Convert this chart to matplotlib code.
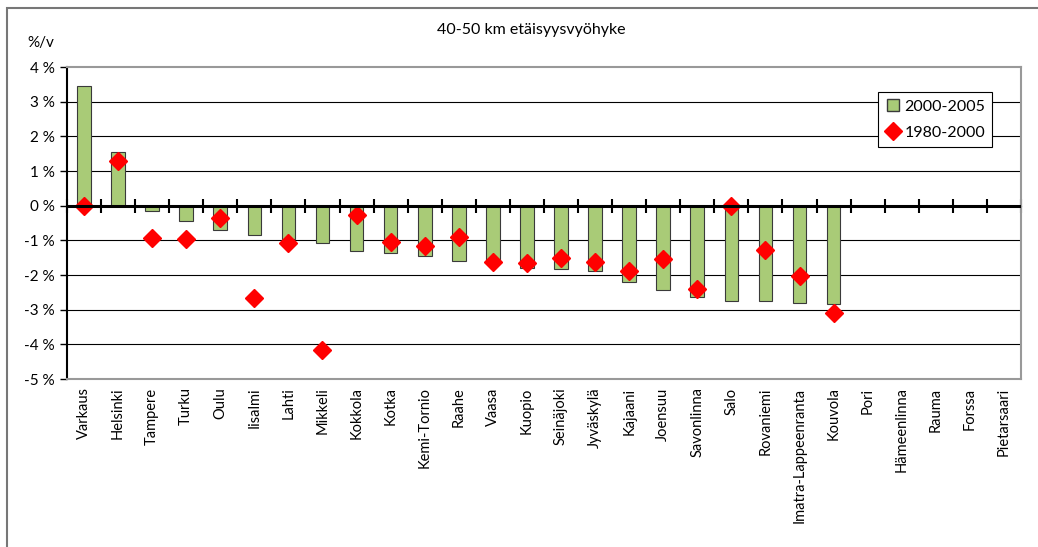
import matplotlib.pyplot as plt
import numpy as np
from matplotlib.patches import Rectangle
from matplotlib.lines import Line2D

plt.rcParams['font.family'] = ['Lato', 'DejaVu Sans']

cities = ['Varkaus', 'Helsinki', 'Tampere', 'Turku', 'Oulu', 'Iisalmi', 'Lahti',
          'Mikkeli', 'Kokkola', 'Kotka', 'Kemi-Tornio', 'Raahe', 'Vaasa', 'Kuopio',
          'Seinäjoki', 'Jyväskylä', 'Kajaani', 'Joensuu', 'Savonlinna', 'Salo',
          'Rovaniemi', 'Imatra-Lappeenranta', 'Kouvola', 'Pori', 'Hämeenlinna',
          'Rauma', 'Forssa', 'Pietarsaari']
# 2000-2005 (%/v), nan = no data
growth_2000_2005 = [3.46, 1.55, -0.14, -0.44, -0.70, -0.85, -0.95, -1.08, -1.32,
                    -1.37, -1.45, -1.60, -1.61, -1.80, -1.82, -1.89, -2.19, -2.42,
                    -2.64, -2.76, -2.76, -2.81, -2.83,
                    np.nan, np.nan, np.nan, np.nan, np.nan]
# 1980-2000 (%/v)
growth_1980_2000 = [-0.02, 1.28, -0.92, -0.96, -0.36, -2.65, -1.07, -4.17, -0.28,
                    -1.05, -1.16, -0.89, -1.61, -1.66, -1.50, -1.63, -1.88, -1.55,
                    -2.41, 0.0, -1.28, -2.04, -3.09,
                    np.nan, np.nan, np.nan, np.nan, np.nan]
y_ticks = [4, 3, 2, 1, 0, -1, -2, -3, -4, -5]
y_labels = ['4 %', '3 %', '2 %', '1 %', '0 %', '-1 %', '-2 %', '-3 %', '-4 %', '-5 %']

fig = plt.figure(figsize=(10.38, 5.47), dpi=100)
ax = fig.add_axes([0.0645, 0.307, 0.9191, 0.5705])

x = np.arange(len(cities))
ax.bar(x, growth_2000_2005, width=0.4, color='#A9CB77', edgecolor='#3a3a3a',
       linewidth=0.8, zorder=3, label='2000-2005')
ax.plot(x, growth_1980_2000, linestyle='none', marker='D', markersize=9,
        color='#FF0000', zorder=4, label='1980-2000')

ax.set_xlim(-0.5, len(cities) - 0.5)
ax.set_ylim(-5, 4)

# gridlines
for v in y_ticks[1:]:
    ax.axhline(v, color='black', linewidth=0.8, zorder=1)
ax.axhline(0, color='black', linewidth=2.2, zorder=5)

ax.set_yticks(y_ticks)
ax.set_yticklabels(y_labels, fontsize=11)
ax.tick_params(axis='y', direction='out', length=5, width=1, pad=4)

ax.set_xticks(x)
ax.set_xticklabels(cities, rotation=90, fontsize=10.5)
ax.tick_params(axis='x', length=0, pad=6)

# category tick marks on the zero line
sec = ax.secondary_xaxis(5 / 9)
sec.set_xticks(np.arange(len(cities) + 1) - 0.5)
sec.set_xticklabels([])
sec.tick_params(direction='inout', length=10, width=1.5)
sec.spines['bottom'].set_visible(False)

for s in ['top', 'right', 'bottom']:
    ax.spines[s].set_color('#999999')
    ax.spines[s].set_linewidth(1.5)
ax.spines['left'].set_color('black')
ax.spines['left'].set_linewidth(1.5)

handles = [Line2D([], [], linestyle='none', marker='s', markersize=9,
                  markerfacecolor='#A9CB77', markeredgecolor='#3a3a3a'),
           Line2D([], [], linestyle='none', marker='D', markersize=9, color='#FF0000')]
leg = ax.legend(handles, ['2000-2005', '1980-2000'], loc='upper right',
                bbox_to_anchor=(0.9785, 0.945), fontsize=11.5, fancybox=False,
                framealpha=1, edgecolor='black', handletextpad=0.2,
                borderpad=0.45, labelspacing=0.75, handlelength=1.0)
leg.get_frame().set_linewidth(0.8)
leg.set_zorder(10)

fig.text(0.512, 0.945, '40-50 km etäisyysvyöhyke', ha='center', va='center', fontsize=11.5)
fig.text(0.052, 0.922, '%/v', ha='right', va='center', fontsize=11)

# outer chart frame
fig.patches.append(Rectangle((7 / 1038, -0.05), 1.1, 1 - 8 / 547 + 0.05,
                             transform=fig.transFigure, fill=False,
                             edgecolor='#777777', linewidth=1.5))

fig.savefig('out.png', dpi=100)
